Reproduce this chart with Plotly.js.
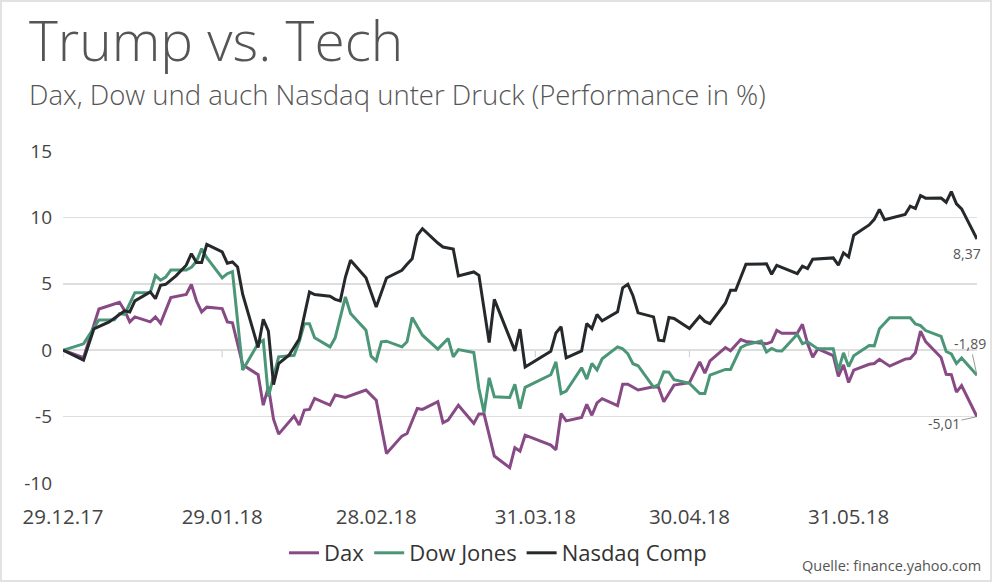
<!DOCTYPE html>
<html>
<head>
<meta charset="utf-8">
<script src="https://cdn.plot.ly/plotly-3.0.1.min.js"></script>
<style>
  html, body { margin: 0; padding: 0; background: #fff; }
  #wrap { position: absolute; left: 0; top: 0; width: 992px; height: 582px; box-sizing: border-box; border: 2px solid #e2e2e2; background: #fff; }
  #chart { width: 988px; height: 578px; }
</style>
</head>
<body>
<div id="wrap"><div id="chart"></div></div>
<script>
// ---- Data (performance in %) ----
const daxDates = ['2017-12-29','2018-01-02','2018-01-05','2018-01-09','2018-01-10','2018-01-11','2018-01-12','2018-01-15','2018-01-16','2018-01-17','2018-01-19','2018-01-22','2018-01-23','2018-01-24','2018-01-25','2018-01-26','2018-01-29','2018-01-30','2018-01-31','2018-02-02','2018-02-05','2018-02-06','2018-02-07','2018-02-08','2018-02-09','2018-02-12','2018-02-13','2018-02-14','2018-02-15','2018-02-16','2018-02-19','2018-02-20','2018-02-22','2018-02-26','2018-02-27','2018-02-28','2018-03-02','2018-03-05','2018-03-06','2018-03-08','2018-03-09','2018-03-12','2018-03-13','2018-03-14','2018-03-16','2018-03-19','2018-03-20','2018-03-21','2018-03-23','2018-03-26','2018-03-27','2018-03-28','2018-03-29','2018-04-03','2018-04-04','2018-04-05','2018-04-06','2018-04-09','2018-04-10','2018-04-11','2018-04-12','2018-04-13','2018-04-16','2018-04-17','2018-04-18','2018-04-20','2018-04-23','2018-04-24','2018-04-25','2018-04-27','2018-04-30','2018-05-02','2018-05-03','2018-05-04','2018-05-07','2018-05-08','2018-05-10','2018-05-11','2018-05-15','2018-05-16','2018-05-17','2018-05-18','2018-05-21','2018-05-22','2018-05-23','2018-05-24','2018-05-25','2018-05-28','2018-05-29','2018-05-30','2018-05-31','2018-06-01','2018-06-04','2018-06-05','2018-06-06','2018-06-08','2018-06-11','2018-06-12','2018-06-13','2018-06-14','2018-06-15','2018-06-18','2018-06-19','2018-06-20','2018-06-21','2018-06-22','2018-06-25'];
const daxValues = [0,-0.57,3.1,3.61,3.0,2.13,2.51,2.13,2.51,2.03,3.96,4.2,4.95,3.7,2.88,3.24,3.13,2.13,2.06,-1.1,-1.85,-4.14,-2.76,-5.2,-6.32,-4.96,-5.64,-4.51,-4.46,-3.63,-4.14,-3.38,-3.56,-3.0,-3.38,-3.76,-7.77,-6.47,-6.27,-4.39,-4.46,-3.88,-5.46,-5.26,-4.14,-5.51,-4.81,-4.81,-7.97,-8.84,-7.34,-7.6,-6.4,-7.15,-7.5,-4.77,-5.32,-5.07,-4.08,-4.9,-3.97,-3.65,-4.17,-2.56,-2.56,-3.0,-2.76,-2.8,-3.88,-2.63,-2.45,-0.88,-1.73,-0.8,0.2,-0.05,0.8,0.66,0.48,0.63,1.5,1.28,1.28,1.95,0.5,-0.52,0.1,-0.4,-1.98,-1.1,-2.43,-1.5,-1.06,-1.0,-0.69,-1.2,-0.67,-0.63,-0.19,1.44,0.65,-0.55,-1.82,-1.84,-3.16,-2.66,-5.01];

const dowDates = ['2017-12-29','2018-01-02','2018-01-05','2018-01-08','2018-01-09','2018-01-10','2018-01-12','2018-01-15','2018-01-16','2018-01-17','2018-01-18','2018-01-19','2018-01-22','2018-01-23','2018-01-24','2018-01-25','2018-01-26','2018-01-29','2018-01-30','2018-01-31','2018-02-02','2018-02-05','2018-02-06','2018-02-07','2018-02-09','2018-02-12','2018-02-13','2018-02-14','2018-02-15','2018-02-16','2018-02-19','2018-02-20','2018-02-22','2018-02-23','2018-02-26','2018-02-27','2018-02-28','2018-03-01','2018-03-02','2018-03-05','2018-03-06','2018-03-07','2018-03-09','2018-03-12','2018-03-14','2018-03-15','2018-03-16','2018-03-19','2018-03-20','2018-03-21','2018-03-22','2018-03-23','2018-03-26','2018-03-27','2018-03-28','2018-03-29','2018-04-03','2018-04-04','2018-04-05','2018-04-06','2018-04-09','2018-04-10','2018-04-11','2018-04-12','2018-04-13','2018-04-16','2018-04-17','2018-04-18','2018-04-19','2018-04-20','2018-04-23','2018-04-24','2018-04-25','2018-04-26','2018-04-27','2018-04-30','2018-05-02','2018-05-03','2018-05-04','2018-05-07','2018-05-08','2018-05-10','2018-05-11','2018-05-14','2018-05-15','2018-05-16','2018-05-17','2018-05-18','2018-05-21','2018-05-22','2018-05-23','2018-05-25','2018-05-28','2018-05-29','2018-05-30','2018-05-31','2018-06-01','2018-06-04','2018-06-05','2018-06-06','2018-06-08','2018-06-12','2018-06-13','2018-06-14','2018-06-15','2018-06-18','2018-06-19','2018-06-20','2018-06-21','2018-06-22','2018-06-25'];
const dowValues = [0,0.48,2.28,2.3,2.76,2.7,4.33,4.35,5.62,5.27,5.5,6.03,6.03,6.25,6.69,7.65,6.96,5.44,5.76,5.92,-1.5,0.5,0.75,-3.5,-0.5,-0.38,0.63,2.0,2.0,0.93,0.25,0.93,4.01,2.76,1.5,-0.45,-0.8,0.63,0.68,0.25,0.63,2.46,1.13,0.08,0.88,-0.5,0.05,-0.18,-2.88,-4.7,-2.08,-3.51,-3.56,-2.56,-4.4,-2.8,-1.85,-0.88,-3.27,-3.08,-1.32,-2.17,-1.0,-1.48,-0.65,0.25,0.1,-0.27,-1.02,-1.17,-2.78,-2.6,-1.63,-1.65,-2.22,-2.5,-3.26,-3.26,-1.88,-1.45,-1.45,0.2,0.4,0.69,-0.13,0.13,-0.05,-0.06,1.2,0.5,0.63,0.1,0.1,-1.53,-0.2,-1.23,-0.42,0.35,0.33,1.62,2.44,2.44,1.97,1.85,1.48,1.04,-0.1,-0.28,-1.0,-0.59,-1.89];

const nasdaqDates = ['2017-12-29','2018-01-02','2018-01-04','2018-01-07','2018-01-10','2018-01-11','2018-01-12','2018-01-15','2018-01-16','2018-01-17','2018-01-18','2018-01-20','2018-01-22','2018-01-23','2018-01-24','2018-01-25','2018-01-26','2018-01-29','2018-01-30','2018-01-31','2018-02-01','2018-02-02','2018-02-05','2018-02-06','2018-02-07','2018-02-08','2018-02-09','2018-02-11','2018-02-13','2018-02-15','2018-02-16','2018-02-19','2018-02-20','2018-02-21','2018-02-22','2018-02-23','2018-02-26','2018-02-28','2018-03-02','2018-03-05','2018-03-06','2018-03-07','2018-03-08','2018-03-09','2018-03-12','2018-03-13','2018-03-15','2018-03-16','2018-03-19','2018-03-20','2018-03-22','2018-03-23','2018-03-27','2018-03-28','2018-03-29','2018-04-03','2018-04-04','2018-04-05','2018-04-06','2018-04-09','2018-04-10','2018-04-11','2018-04-12','2018-04-13','2018-04-16','2018-04-17','2018-04-18','2018-04-19','2018-04-20','2018-04-23','2018-04-24','2018-04-25','2018-04-26','2018-04-27','2018-04-30','2018-05-02','2018-05-03','2018-05-04','2018-05-07','2018-05-08','2018-05-09','2018-05-11','2018-05-15','2018-05-16','2018-05-17','2018-05-21','2018-05-22','2018-05-23','2018-05-24','2018-05-28','2018-05-29','2018-05-30','2018-05-31','2018-06-01','2018-06-04','2018-06-05','2018-06-06','2018-06-07','2018-06-11','2018-06-12','2018-06-13','2018-06-14','2018-06-15','2018-06-18','2018-06-19','2018-06-20','2018-06-21','2018-06-22','2018-06-25'];
const nasdaqValues = [0,-0.75,1.6,2.13,2.96,2.88,3.71,4.39,3.88,4.89,4.96,5.6,6.4,7.27,6.6,6.6,7.97,7.4,6.55,6.64,6.27,4.2,0.2,2.33,1.43,-2.6,-1.0,-0.38,0.83,4.39,4.19,4.06,3.83,3.71,5.51,6.77,5.45,3.26,5.44,6.02,6.47,6.89,8.65,9.15,8.07,7.77,7.62,5.59,5.89,5.64,0.58,3.83,-0.05,1.58,-1.26,-0.08,1.3,1.76,-0.58,-0.05,2.0,1.63,2.69,2.21,2.89,4.7,4.97,4.1,2.81,2.51,0.75,0.7,2.46,2.39,1.63,2.56,2.17,2.0,3.54,4.51,4.51,6.47,6.5,5.72,6.39,5.77,6.33,6.15,6.85,6.95,6.4,7.33,7.03,8.66,9.43,9.85,10.6,9.83,10.22,10.84,10.67,11.65,11.45,11.46,11.14,11.94,11.02,10.64,8.37];

const seriesNames = ['Dax', 'Dow Jones', 'Nasdaq Comp'];
const seriesColors = ['#884a84', '#4a9677', '#26292b'];

const xTickVals = ['2017-12-29','2018-01-29','2018-02-28','2018-03-31','2018-04-30','2018-05-31'];
const xTickText = ['29.12.17','29.01.18','28.02.18','31.03.18','30.04.18','31.05.18'];
const yTickVals = [-10, -5, 0, 5, 10, 15];
const yTickText = ['-10', '-5', '0', '5', '10', '15'];

const titleText = 'Trump vs. Tech';
const subtitleText = 'Dax, Dow und auch Nasdaq unter Druck (Performance in %)';
const sourceText = 'Quelle: finance.yahoo.com';

// ---- Build chart ----
const FONT = 'Open Sans, Noto Sans, sans-serif';
const seriesX = [daxDates, dowDates, nasdaqDates];
const seriesY = [daxValues, dowValues, nasdaqValues];

const traces = seriesNames.map((name, i) => ({
  type: 'scatter', mode: 'lines', name: name,
  x: seriesX[i], y: seriesY[i],
  line: { color: seriesColors[i], width: 3, shape: 'linear' },
  cliponaxis: false, hoverinfo: 'skip'
}));

const fmt = v => v.toFixed(2).replace('.', ',');
const last = arr => arr[arr.length - 1];

// end value labels
const endLabelOffsets = [ {ax: -33, ay: 7, arrow: true}, {ax: -7, ay: -32, arrow: true}, {ax: -10, ay: 14, arrow: false} ];
const endAnnotations = seriesNames.map((n, i) => {
  const o = endLabelOffsets[i];
  const a = {
    x: last(seriesX[i]), y: last(seriesY[i]), xref: 'x', yref: 'y',
    text: fmt(last(seriesY[i])),
    font: { family: FONT, size: 14, color: '#555' }
  };
  if (o.arrow) {
    Object.assign(a, { showarrow: true, ax: o.ax, ay: o.ay, arrowhead: 0, arrowwidth: 1, arrowcolor: '#9a9a9a', standoff: 2 });
  } else {
    Object.assign(a, { showarrow: false, xshift: o.ax, yshift: -o.ay });
  }
  return a;
});

// plot area geometry inside the 988x578 div
const M = { l: 61, r: 13, t: 149, b: 97, autoexpand: false };
const plotH = 578 - M.t - M.b;
const plotW = 988 - M.l - M.r;
const px2paperX = x => (x - M.l) / plotW;
const px2paperY = y => (M.t + plotH - y) / plotH;

const layout = {
  width: 988, height: 578,
  margin: M,
  paper_bgcolor: '#fff', plot_bgcolor: '#fff',
  font: { family: FONT, color: '#444' },
  showlegend: true,
  legend: {
    orientation: 'h', x: px2paperX(496), xanchor: 'center', y: px2paperY(551), yanchor: 'middle',
    font: { family: FONT, size: 22, color: '#333' }, itemwidth: 30, tracegroupgap: 0,
    bgcolor: 'rgba(0,0,0,0)'
  },
  xaxis: {
    type: 'date', range: ['2017-12-29', '2018-06-25'], automargin: false,
    tickvals: xTickVals, ticktext: xTickText,
    showgrid: false, zeroline: false, showline: false,
    ticks: '', ticklabelstandoff: 19,
    tickfont: { family: FONT, size: 20.5, color: '#444' }
  },
  yaxis: {
    range: [-10, 15], tickvals: yTickVals, ticktext: yTickText, automargin: false,
    showgrid: true, gridcolor: '#dedede', gridwidth: 1.5,
    zeroline: false, showline: false, ticks: '', ticklabelstandoff: 10,
    tickfont: { family: FONT, size: 19, color: '#444' }
  },
  shapes: xTickVals.map(d => ({
    type: 'line', xref: 'x', yref: 'y', x0: d, x1: d,
    ysizemode: 'pixel', yanchor: 0, y0: 0, y1: -7,
    line: { color: '#d4d4d4', width: 1.2 }, layer: 'below'
  })),
  annotations: [
    { xref: 'paper', yref: 'paper', x: px2paperX(25), y: px2paperY(37), xanchor: 'left', yanchor: 'middle',
      text: titleText, showarrow: false, font: { family: FONT, size: 55, color: '#555', weight: 300 } },
    { xref: 'paper', yref: 'paper', x: px2paperX(25), y: px2paperY(93), xanchor: 'left', yanchor: 'middle',
      text: subtitleText, showarrow: false, font: { family: FONT, size: 27.5, color: '#555', weight: 300 } },
    { xref: 'paper', yref: 'paper', x: px2paperX(981), y: px2paperY(563), xanchor: 'right', yanchor: 'middle',
      text: sourceText, showarrow: false, font: { family: FONT, size: 14.5, color: '#555' } }
  ].concat(endAnnotations)
};

Plotly.newPlot('chart', traces, layout, { displayModeBar: false, staticPlot: true });
</script>
</body>
</html>
